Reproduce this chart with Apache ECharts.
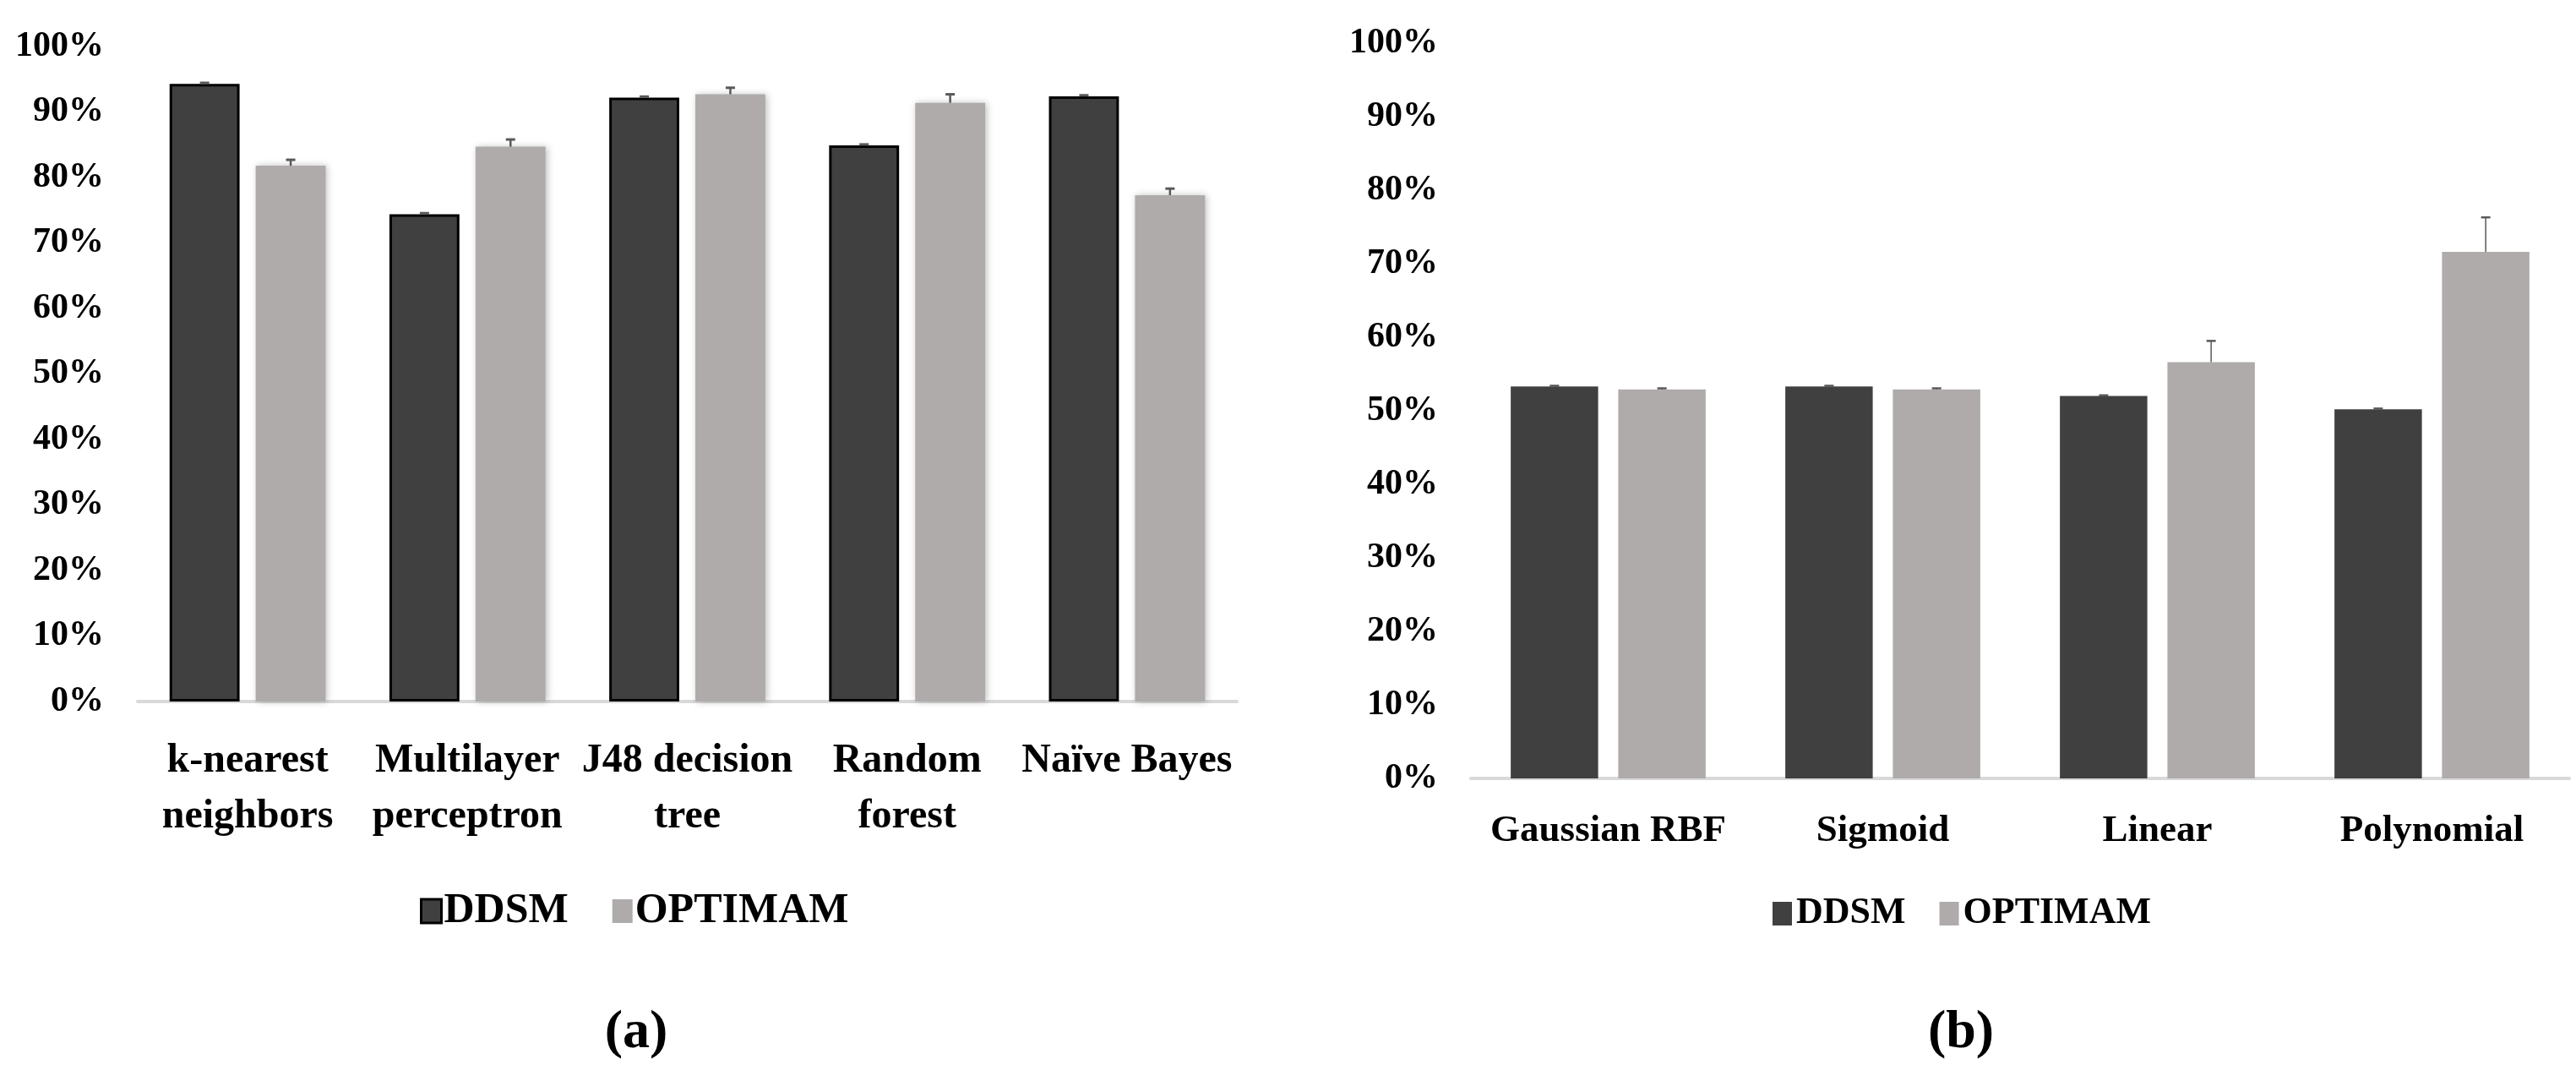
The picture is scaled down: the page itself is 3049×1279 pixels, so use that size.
<!DOCTYPE html>
<html>
<head>
<meta charset="utf-8">
<script src="https://cdn.jsdelivr.net/npm/echarts@6/dist/echarts.min.js"></script>
<style>
html,body{margin:0;padding:0;background:#fff;}
#c{width:3049px;height:1279px;}
</style>
</head>
<body>
<div id="c"></div>
<script>
// ---- data ----
const catsA = ['k-nearest\nneighbors', 'Multilayer\nperceptron', 'J48 decision\ntree', 'Random\nforest', 'Naïve Bayes'];
const ddsmA = [94.3, 74.4, 92.2, 84.9, 92.4];
const optA = [81.8, 84.7, 92.7, 91.4, 77.3];
const ddsmErrA = [0.15, 0.15, 0.15, 0.15, 0.15];
const optErrA = [0.9, 1.1, 1.0, 1.3, 1.0];

const catsB = ['Gaussian RBF', 'Sigmoid', 'Linear', 'Polynomial'];
const ddsmB = [53.3, 53.3, 52.0, 50.2];
const optB = [52.9, 52.9, 56.6, 71.6];
const ddsmErrB = [0.1, 0.1, 0.1, 0.1];
const optErrB = [0.15, 0.15, 2.9, 4.7];

const seriesNames = ['DDSM', 'OPTIMAM'];
const panelLabels = ['a', 'b'];

// ---- style ----
const FONT = '"Liberation Serif", "Times New Roman", serif';
const C_DDSM = '#404040';
const C_OPT = '#AFABAB';
const C_ERR = '#595959';
const CAT_GAP = 0.29, BAR_GAP = 0.23;

function errRender(side, lw, capW, capLw) {
  return function (params, api) {
    const idx = api.value(0), v = api.value(1), e = api.value(2);
    const band = api.size([1, 0])[0];
    const w = band * (1 - CAT_GAP) / (2 + BAR_GAP);
    const off = side * (w + BAR_GAP * w) / 2;
    const p0 = api.coord([idx, v]);
    const p1 = api.coord([idx, v + e]);
    const x = p0[0] + off;
    return {
      type: 'group',
      children: [
        { type: 'line', shape: { x1: x, y1: p0[1], x2: x, y2: p1[1] }, style: { stroke: C_ERR, lineWidth: lw } },
        { type: 'line', shape: { x1: x - capW / 2, y1: p1[1], x2: x + capW / 2, y2: p1[1] }, style: { stroke: C_ERR, lineWidth: capLw } }
      ]
    };
  };
}
function errData(vals, errs) { return vals.map((v, i) => [i, v, errs[i]]); }

function yAxis(gi, margin) {
  return {
    type: 'value', gridIndex: gi, min: 0, max: 100, interval: 10,
    axisLine: { show: false }, axisTick: { show: false }, splitLine: { show: false },
    axisLabel: { formatter: '{value}%', fontFamily: FONT, fontWeight: 'bold', fontSize: 42, color: '#000', margin: margin }
  };
}
function xAxis(gi, cats, fs, lh, margin) {
  return {
    type: 'category', gridIndex: gi, data: cats,
    axisLine: { lineStyle: { color: '#D9D9D9', width: 4 } }, axisTick: { show: false },
    axisLabel: { interval: 0, fontFamily: FONT, fontWeight: 'bold', fontSize: fs, lineHeight: lh, color: '#000', margin: margin }
  };
}

const chart = echarts.init(document.getElementById('c'), null, { renderer: 'canvas' });
chart.setOption({
  backgroundColor: '#fff',
  animation: false,
  title: panelLabels.map((p, i) => ({
    text: '{r|(}{b|' + p + '}{r|)}',
    left: i === 0 ? 748 : 2316, top: 1185, textAlign: 'center',
    textStyle: { rich: {
      r: { fontFamily: FONT, fontSize: 64, color: '#000' },
      b: { fontFamily: FONT, fontSize: 64, fontWeight: 'bold', color: '#000' }
    } }
  })),
  legend: [
    {
      left: 492, top: 1048, itemWidth: 24, itemHeight: 28, itemGap: 52, icon: 'rect',
      textStyle: { fontFamily: FONT, fontWeight: 'bold', fontSize: 50, color: '#000', padding: [0, 0, 0, -2] },
      data: [
        { name: 'DDSM', itemStyle: { color: C_DDSM, borderColor: '#000', borderWidth: 3 } },
        { name: 'OPTIMAM', itemStyle: { color: C_OPT, borderWidth: 0 } }
      ]
    },
    {
      left: 2093, top: 1054, itemWidth: 23, itemHeight: 28, itemGap: 40, icon: 'rect',
      textStyle: { fontFamily: FONT, fontWeight: 'bold', fontSize: 44, color: '#000' },
      data: [
        { name: 'DDSM', itemStyle: { color: C_DDSM, borderWidth: 0 } },
        { name: 'OPTIMAM', itemStyle: { color: C_OPT, borderWidth: 0 } }
      ]
    }
  ],
  grid: [
    { left: 163, right: 3049 - 1464, top: 55, bottom: 1279 - 830, containLabel: false },
    { left: 1741, right: 8, top: 51, bottom: 1279 - 921, containLabel: false }
  ],
  xAxis: [xAxis(0, catsA, 48, 66, 38), xAxis(1, catsB, 45, 54, 35)],
  yAxis: [yAxis(0, 40), yAxis(1, 39)],
  series: [
    { name: seriesNames[0], type: 'bar', xAxisIndex: 0, yAxisIndex: 0, data: ddsmA,
      barCategoryGap: (CAT_GAP * 100) + '%', barGap: (BAR_GAP * 100) + '%',
      itemStyle: { color: C_DDSM, borderColor: '#000', borderWidth: 3 } },
    { name: seriesNames[1], type: 'bar', xAxisIndex: 0, yAxisIndex: 0, data: optA,
      barCategoryGap: (CAT_GAP * 100) + '%', barGap: (BAR_GAP * 100) + '%',
      itemStyle: { color: C_OPT, shadowBlur: 8, shadowColor: 'rgba(0,0,0,0.25)', shadowOffsetX: 2 } },
    { name: 'errA_DDSM', type: 'custom', xAxisIndex: 0, yAxisIndex: 0, z: 5,
      renderItem: errRender(-1, 2.5, 11, 3), encode: { x: 0, y: [1, 2] }, data: errData(ddsmA, ddsmErrA) },
    { name: 'errA_OPT', type: 'custom', xAxisIndex: 0, yAxisIndex: 0, z: 5,
      renderItem: errRender(1, 2.5, 11, 3), encode: { x: 0, y: [1, 2] }, data: errData(optA, optErrA) },

    { name: seriesNames[0], type: 'bar', xAxisIndex: 1, yAxisIndex: 1, data: ddsmB,
      barCategoryGap: (CAT_GAP * 100) + '%', barGap: (BAR_GAP * 100) + '%',
      itemStyle: { color: C_DDSM } },
    { name: seriesNames[1], type: 'bar', xAxisIndex: 1, yAxisIndex: 1, data: optB,
      barCategoryGap: (CAT_GAP * 100) + '%', barGap: (BAR_GAP * 100) + '%',
      itemStyle: { color: C_OPT } },
    { name: 'errB_DDSM', type: 'custom', xAxisIndex: 1, yAxisIndex: 1, z: 5,
      renderItem: errRender(-1, 1.5, 11, 2.5), encode: { x: 0, y: [1, 2] }, data: errData(ddsmB, ddsmErrB) },
    { name: 'errB_OPT', type: 'custom', xAxisIndex: 1, yAxisIndex: 1, z: 5,
      renderItem: errRender(1, 1.5, 11, 2.5), encode: { x: 0, y: [1, 2] }, data: errData(optB, optErrB) }
  ]
});
</script>
</body>
</html>
